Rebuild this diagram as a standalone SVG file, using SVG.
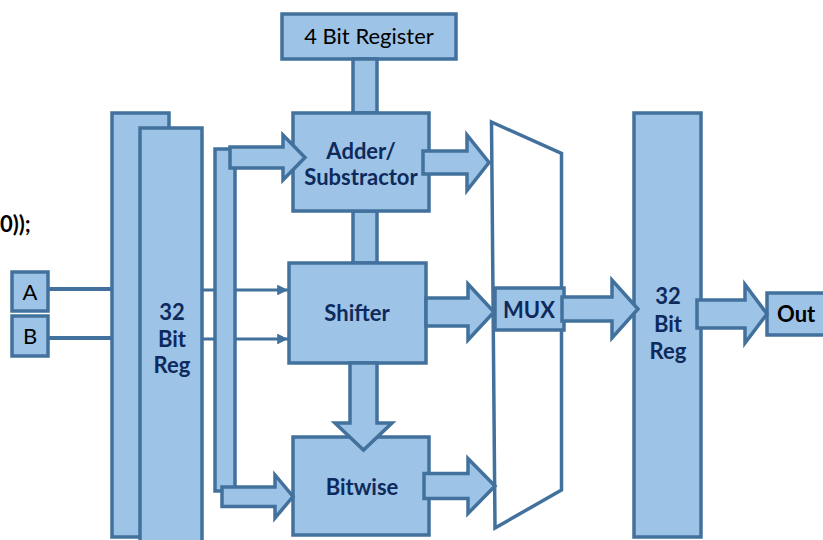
<svg xmlns="http://www.w3.org/2000/svg" width="823" height="540" viewBox="0 0 823 540">
  <defs>
    <style>
      .blk { fill: #9DC3E6; stroke: #41719C; stroke-width: 3.5; stroke-linejoin: miter; }
      .wire { fill: none; stroke: #41719C; stroke-width: 4; }
      .thin { fill: none; stroke: #41719C; stroke-width: 3; }
      .mux { fill: #FFFFFF; stroke: #41719C; stroke-width: 3.5; }
      .lbl { font-family: Lato, "Open Sans", "Liberation Sans", sans-serif; font-size: 22px; font-weight: bold; fill: #0E2A5C; text-anchor: middle; }
      .plain { font-family: Lato, "Open Sans", "Liberation Sans", sans-serif; font-size: 22px; fill: #000000; text-anchor: middle; }
      .dark { font-family: Lato, "Open Sans", "Liberation Sans", sans-serif; font-size: 22px; font-weight: bold; fill: #000000; }
    </style>
    <marker id="tri" viewBox="0 0 10 10" refX="10" refY="5" markerWidth="4" markerHeight="3.6" orient="auto" markerUnits="strokeWidth">
      <path d="M0,0 L10,5 L0,10 Z" fill="#41719C"/>
    </marker>
  </defs>

  <!-- code fragment at the left edge -->
  <text class="dark" x="0" y="232" font-size="20">0));</text>

  <!-- input ports -->
  <g id="inA">
    <rect class="blk" x="12" y="272" width="36" height="39"/>
    <text class="plain" x="30" y="300" font-size="20">A</text>
  </g>
  <g id="inB">
    <rect class="blk" x="12" y="316" width="36" height="40"/>
    <text class="plain" x="30" y="344" font-size="20">B</text>
  </g>

  <g id="wires">
    <line class="wire" x1="48" y1="289" x2="113" y2="289"/>
    <line class="wire" x1="48" y1="338" x2="113" y2="338"/>
    <line class="thin" x1="202" y1="290" x2="288" y2="290" marker-end="url(#tri)"/>
    <line class="thin" x1="202" y1="339" x2="288" y2="339" marker-end="url(#tri)"/>
  </g>

  <!-- input register pair -->
  <g id="regIn">
    <rect class="blk" x="112" y="113" width="57" height="424"/>
    <rect class="blk" x="140" y="128" width="62" height="420"/>
    <text class="lbl" x="172" y="320">32</text>
    <text class="lbl" x="172" y="347">Bit</text>
    <text class="lbl" x="172" y="373">Reg</text>
  </g>

  <!-- distribution bus -->
  <g id="bus">
    <rect class="blk" x="215" y="149" width="20" height="342"/>
  </g>

  <g id="reg4">
    <rect class="blk" x="282" y="14" width="174" height="45"/>
    <text class="plain" x="369" y="44">4 Bit Register</text>
  </g>

  <g id="links">
    <rect class="blk" x="353" y="59" width="24" height="54"/>
    <rect class="blk" x="353" y="211" width="24" height="52"/>
  </g>

  <g id="adder">
    <rect class="blk" x="293" y="113" width="136" height="98"/>
    <text class="lbl" x="361" y="159">Adder/</text>
    <text class="lbl" x="361" y="185">Substractor</text>
  </g>

  <g id="shifter">
    <rect class="blk" x="289" y="263" width="137" height="100"/>
    <text class="lbl" x="357" y="321">Shifter</text>
  </g>

  <g id="bitwise">
    <rect class="blk" x="293" y="437" width="136" height="98"/>
    <text class="lbl" x="362" y="495">Bitwise</text>
  </g>

  <!-- multiplexer outline and label -->
  <g id="mux">
    <path class="mux" d="M491.5,122 L561.5,153.5 L561.5,490 L495,528 Z"/>
    <rect class="blk" x="495" y="288" width="69" height="42"/>
    <text class="lbl" x="529" y="318">MUX</text>
  </g>

  <g id="regOut">
    <rect class="blk" x="634" y="113" width="67" height="424"/>
    <text class="lbl" x="668" y="304">32</text>
    <text class="lbl" x="668" y="332">Bit</text>
    <text class="lbl" x="668" y="359">Reg</text>
  </g>

  <g id="out">
    <rect class="blk" x="767" y="293" width="60" height="42"/>
    <text class="dark" x="777" y="322">Out</text>
  </g>

  <!-- block arrows -->
  <g id="flows">
    <polygon class="blk" points="230,147 283,147 283,135 305,157.5 283,180 283,168 230,168"/>
    <polygon class="blk" points="222,487 275,487 275,475 293,496.5 275,518 275,506.5 222,506.5"/>
    <polygon class="blk" points="423,151 467,151 467,135 489,162.5 467,190.5 467,174 423,174"/>
    <polygon class="blk" points="426,298 468,298 468,284 494,312 468,340 468,326 426,326"/>
    <polygon class="blk" points="424,473.5 468,473.5 468,458.5 495,486 468,513.5 468,498.5 424,498.5"/>
    <polygon class="blk" points="350,363 377,363 377,423 392,423 363.5,450 335,423 350,423"/>
    <polygon class="blk" points="562,297 612,297 612,280 638,309 612,338 612,321 562,321"/>
    <polygon class="blk" points="697,300 745,300 745,284.5 767,314 745,343 745,328 697,328"/>
  </g>
</svg>
